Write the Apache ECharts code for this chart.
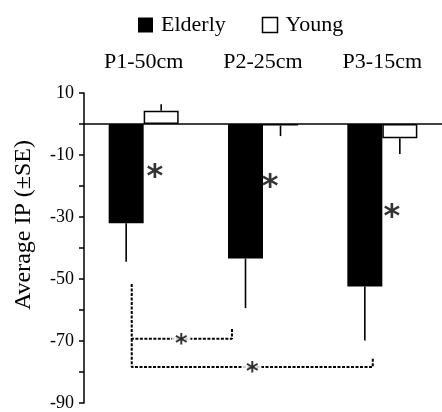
<!DOCTYPE html>
<html>
<head>
<meta charset="utf-8">
<script src="https://cdn.jsdelivr.net/npm/echarts@6/dist/echarts.min.js"></script>
<style>
  html, body { margin: 0; padding: 0; background: #fff; }
  #chart { width: 442px; height: 412px; }
</style>
</head>
<body>
<div id="chart"></div>
<script>
// data
const categories = ['P1-50cm', 'P2-25cm', 'P3-15cm']
const elderly = [-32, -43.4, -52.4]
const elderlyErrEnd = [-44.4, -59.4, -69.8]
const young = [4.3, -0.5, -4.6]
const youngErrEnd = [6.4, -3.9, -9.7]
const yTickLabels = [10, -10, -30, -50, -70, -90]

// significance marks, x in category units (0..3) on the hidden value axis
const sigStars = [[0.593, -14.8], [1.56, -18], [2.58, -27.7]]
const bracketShort = [[0.40, -51.6], [0.40, -69.3], [1.24, -69.3], [1.24, -65.8]]
const bracketLong = [[0.40, -69.3], [0.40, -78.4], [2.42, -78.4], [2.42, -75.3]]
const bracketStars = [[0.815, -69.3], [1.41, -78.4]]

const FONT = '"Liberation Serif", "Times New Roman", serif'
const STAR_FONT = '"DejaVu Sans", sans-serif'
const BAR_W = 35

const chart = echarts.init(document.getElementById('chart'))

const errorBar = (ends, values, shift) => ({
  type: 'custom',
  xAxisIndex: 0,
  yAxisIndex: 0,
  silent: true,
  data: values.map((v, i) => [i, v, ends[i]]),
  renderItem: (params, api) => {
    const a = api.coord([api.value(0), api.value(1)])
    const b = api.coord([api.value(0), api.value(2)])
    return {
      type: 'line',
      shape: { x1: a[0] + shift, y1: a[1], x2: b[0] + shift, y2: b[1] },
      style: { stroke: '#000', lineWidth: 1.6 }
    }
  }
})

const bracket = (pts) => ({
  type: 'line',
  xAxisIndex: 1,
  yAxisIndex: 0,
  data: pts,
  symbol: 'none',
  silent: true,
  lineStyle: { color: '#000', width: 2, type: [3, 1.5] }
})

const starLabel = (size, dy, extra) => Object.assign({
  show: true,
  position: 'inside',
  formatter: '*',
  fontFamily: STAR_FONT,
  fontWeight: 'bold',
  fontSize: size,
  color: '#000',
  offset: [0, dy]
}, extra)

const option = {
  backgroundColor: '#fff',
  animation: false,
  textStyle: { fontFamily: FONT, color: '#000' },
  legend: {
    data: [
      { name: 'Elderly', icon: 'rect', itemStyle: { color: '#000', borderWidth: 0 } },
      { name: 'Young', icon: 'rect', itemStyle: { color: '#fff', borderColor: '#000', borderWidth: 1.5 } }
    ],
    left: 133,
    top: 9,
    itemWidth: 15,
    itemHeight: 15,
    itemGap: 36,
    textStyle: { fontFamily: FONT, fontSize: 22, color: '#000', padding: [0, 0, 0, 3] }
  },
  grid: { left: 84, top: 93, width: 364.5, bottom: 8.7 },
  xAxis: [
    {
      type: 'category',
      data: categories,
      position: 'top',
      axisLine: { show: false },
      axisTick: { show: false },
      axisLabel: { fontFamily: FONT, fontSize: 22, color: '#000', margin: 20 }
    },
    {
      type: 'value',
      min: 0,
      max: 3,
      show: false
    }
  ],
  yAxis: {
    type: 'value',
    min: -90,
    max: 10,
    interval: 10,
    name: 'Average IP (±SE)',
    nameLocation: 'middle',
    nameGap: 48,
    nameTextStyle: { fontFamily: FONT, fontSize: 24, color: '#000', padding: [0, 0, 0, 46] },
    axisLine: { show: true, lineStyle: { color: '#000', width: 1.5 } },
    axisTick: { show: true, length: 5, lineStyle: { color: '#000', width: 1.5 } },
    axisLabel: {
      fontFamily: FONT,
      fontSize: 18,
      color: '#000',
      margin: 10,
      formatter: (v) => (yTickLabels.includes(v) ? String(v) : '')
    },
    splitLine: { show: false }
  },
  series: [
    {
      name: 'Elderly',
      type: 'bar',
      data: elderly,
      barWidth: BAR_W,
      barGap: '0%',
      itemStyle: { color: '#000' },
      markLine: {
        silent: true,
        symbol: 'none',
        label: { show: false },
        lineStyle: { color: '#000', width: 1.5, type: 'solid' },
        data: [{ yAxis: 0 }]
      }
    },
    {
      name: 'Young',
      type: 'bar',
      data: young,
      barWidth: BAR_W,
      itemStyle: { color: '#fff', borderColor: '#000', borderWidth: 1.5 }
    },
    errorBar(elderlyErrEnd, elderly, -BAR_W / 2),
    errorBar(youngErrEnd, young, BAR_W / 2),
    bracket(bracketShort),
    bracket(bracketLong),
    {
      type: 'scatter',
      xAxisIndex: 1,
      data: sigStars,
      symbolSize: 0,
      silent: true,
      label: starLabel(32, 8)
    },
    {
      type: 'scatter',
      xAxisIndex: 1,
      data: bracketStars,
      symbolSize: 0,
      silent: true,
      z: 5,
      label: starLabel(24, 6, { backgroundColor: '#fff', padding: [0, 3] })
    }
  ]
}

chart.setOption(option)
</script>
</body>
</html>
